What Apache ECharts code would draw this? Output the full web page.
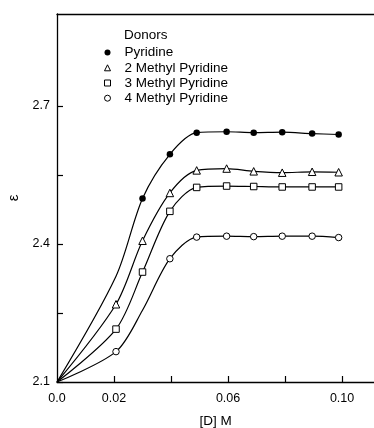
<!DOCTYPE html>
<html lang="en">
<head>
    <meta charset="UTF-8">
    <title>Dielectric constant vs donor concentration</title>
    <script src="https://cdn.jsdelivr.net/npm/echarts@6/dist/echarts.min.js"></script>
    <style>
        html, body { margin: 0; padding: 0; background: #fff; }
    </style>
</head>
<body>
<div id="main" style="width: 374px;height:428px;"></div>

<script type="text/javascript">

    // concentration of donor [D] in M
    var conc = [0, 0.0207, 0.030, 0.0396, 0.049, 0.0595, 0.069, 0.079, 0.0895, 0.0988];

    var donors = ['Pyridine', '2 Methyl Pyridine', '3 Methyl Pyridine', '4 Methyl Pyridine'];
    var symbols = ['circle', 'triangle', 'rect', 'circle'];
    var fills = ['#000', '#fff', '#fff', '#fff'];

    // epsilon values
    var pyridine = [2.1, 2.33, 2.499, 2.595, 2.642, 2.644, 2.642, 2.643, 2.640, 2.638];
    var methyl2 = [2.1, 2.269, 2.407, 2.511, 2.560, 2.564, 2.558, 2.555, 2.557, 2.556];
    var methyl3 = [2.1, 2.215, 2.339, 2.471, 2.523, 2.526, 2.525, 2.524, 2.524, 2.524];
    var methyl4 = [2.1, 2.166, 2.256, 2.368, 2.415, 2.417, 2.416, 2.417, 2.417, 2.414];

    // which points carry a marker (origin and some curve readings do not)
    var pyridineMarked = [0, 0, 1, 1, 1, 1, 1, 1, 1, 1];
    var methyl2Marked = [0, 1, 1, 1, 1, 1, 1, 1, 1, 1];
    var methyl3Marked = [0, 1, 1, 1, 1, 1, 1, 1, 1, 1];
    var methyl4Marked = [0, 1, 0, 1, 1, 1, 1, 1, 1, 1];

    var yTicks = [2.1, 2.25, 2.4, 2.55, 2.7];
    var yLabels = [2.1, 2.4, 2.7];
    var xTicks = [0.02, 0.04, 0.06, 0.08, 0.10];
    var xLabels = [0, 0.02, 0.06, 0.10];

    var allY = [pyridine, methyl2, methyl3, methyl4];
    var allMarked = [pyridineMarked, methyl2Marked, methyl3Marked, methyl4Marked];

    var font = '"Liberation Sans", Arial, sans-serif';

    var series = donors.map(function (name, k) {
        var data = conc.map(function (x, i) {
            var item = {value: [x, allY[k][i]]};
            if (!allMarked[k][i]) item.symbol = 'none';
            return item;
        });
        return {
            name: name,
            type: 'line',
            smooth: 0.3,
            symbol: symbols[k],
            symbolSize: symbols[k] === 'triangle' ? 7.5 : 6.5,
            showAllSymbol: true,
            lineStyle: {color: '#000', width: 1.2},
            itemStyle: {color: fills[k], borderColor: '#000', borderWidth: k === 0 ? 0 : 1},
            emphasis: {disabled: true},
            data: data,
            z: 3
        };
    });

    var myChart = echarts.init(document.getElementById('main'), null, {renderer: 'canvas'});
    myChart.setOption({
        animation: false,
        textStyle: {fontFamily: font, color: '#000'},
        grid: {left: 57, top: 14, right: 0, bottom: 46, outerBoundsMode: 'none'},
        graphic: [{
            type: 'text',
            left: 124,
            top: 28,
            style: {text: 'Donors', fontFamily: font, fontSize: 13.5, fill: '#000'}
        }],
        legend: {
            orient: 'vertical',
            left: 104,
            top: 45,
            itemWidth: 6,
            itemHeight: 6,
            itemGap: 0,
            padding: 0,
            selectedMode: false,
            textStyle: {fontFamily: font, fontSize: 13.5, color: '#000', lineHeight: 15.2, padding: [0, 0, 0, 9]},
            data: donors.map(function (n, k) {
                return {
                    name: n,
                    icon: symbols[k],
                    itemStyle: {color: fills[k], borderColor: '#000', borderWidth: k === 0 ? 0 : 1}
                };
            })
        },
        xAxis: [{
            type: 'value',
            min: 0,
            max: 0.1112,
            position: 'bottom',
            name: '[D] M',
            nameLocation: 'middle',
            nameGap: 32,
            nameTextStyle: {fontFamily: font, fontSize: 13.5, color: '#000'},
            axisLine: {lineStyle: {color: '#000', width: 1.3}},
            axisTick: {inside: true, length: 6, customValues: xTicks, lineStyle: {color: '#000', width: 1.2}},
            axisLabel: {
                customValues: xLabels,
                margin: 10,
                fontSize: 12.5,
                color: '#000',
                fontFamily: font,
                formatter: function (v) { return v === 0 ? '0.0' : v.toFixed(2); }
            },
            splitLine: {show: false}
        }, {
            type: 'value',
            min: 0,
            max: 0.1112,
            position: 'top',
            axisLine: {show: true, lineStyle: {color: '#000', width: 1.3}},
            axisTick: {show: false},
            axisLabel: {show: false},
            splitLine: {show: false}
        }],
        yAxis: {
            type: 'value',
            min: 2.1,
            max: 2.9,
            name: 'ε',
            nameLocation: 'middle',
            nameRotate: 90,
            nameGap: 31,
            nameTextStyle: {fontFamily: font, fontSize: 15, color: '#000'},
            axisLine: {show: true, lineStyle: {color: '#000', width: 1.3}},
            axisTick: {inside: true, length: 6, customValues: yTicks, lineStyle: {color: '#000', width: 1.2}},
            axisLabel: {
                customValues: yLabels,
                margin: 7,
                fontSize: 12.5,
                color: '#000',
                fontFamily: font,
                formatter: function (v) { return v.toFixed(1); }
            },
            splitLine: {show: false}
        },
        series: series
    });

</script>
</body>
</html>
